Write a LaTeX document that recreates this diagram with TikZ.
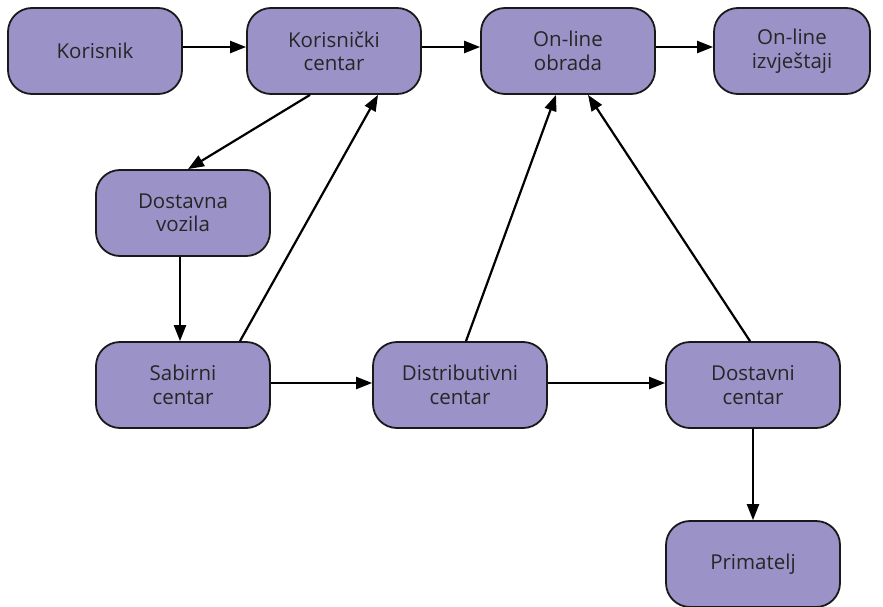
\documentclass[tikz,border=0pt]{standalone}
\usepackage{fontspec}
\setmainfont{Open Sans}
\usetikzlibrary{arrows.meta}
\definecolor{boxfill}{HTML}{9B93C8}
\begin{document}
\begin{tikzpicture}[x=1pt, y=-1pt, font=\fontsize{20.5}{23.5}\selectfont, line join=round,
  >={Triangle[length=16pt, width=12pt]},
  box/.style={draw=black!90, line width=1.8pt, fill=boxfill, rounded corners=24pt,
    minimum width=174pt, minimum height=86pt, align=center, inner sep=2pt, text=black!85}]
 \useasboundingbox (0,0) rectangle (883,607);
 \node[box] (kor) at (95,51) {Korisnik};
 \node[box] (kc) at (334,51) {Korisnički\\centar};
 \node[box] (obr) at (568,51) {On-line\\obrada};
 \node[box, minimum width=156pt] (izv) at (792,51) {On-line\\izvještaji};
 \node[box] (voz) at (183,213) {Dostavna\\vozila};
 \node[box] (sab) at (183,385) {Sabirni\\centar};
 \node[box] (dis) at (460,385) {Distributivni\\centar};
 \node[box] (dos) at (753,385) {Dostavni\\centar};
 \node[box] (pri) at (753,564) {Primatelj};
 \begin{scope}[line width=2.2pt, ->]
  \draw (kor.east |- 0,47) -- (kc.west |- 0,47);
  \draw (kc.east |- 0,47) -- (obr.west |- 0,47);
  \draw (obr.east |- 0,47) -- (izv.west |- 0,47);
  \draw (kc.south -| 310,0) -- (voz.north -| 188,0);
  \draw (voz.south -| 180,0) -- (sab.north -| 180,0);
  \draw (sab.north -| 240,0) -- (kc.south -| 378,0);
  \draw (sab.east |- 0,383) -- (dis.west |- 0,383);
  \draw (dis.east |- 0,383) -- (dos.west |- 0,383);
  \draw (dis.north -| 466,0) -- (obr.south -| 556,0);
  \draw (dos.north -| 750,0) -- (obr.south -| 588,0);
  \draw (dos.south -| 753,0) -- (pri.north -| 753,0);
 \end{scope}
\end{tikzpicture}
\end{document}
